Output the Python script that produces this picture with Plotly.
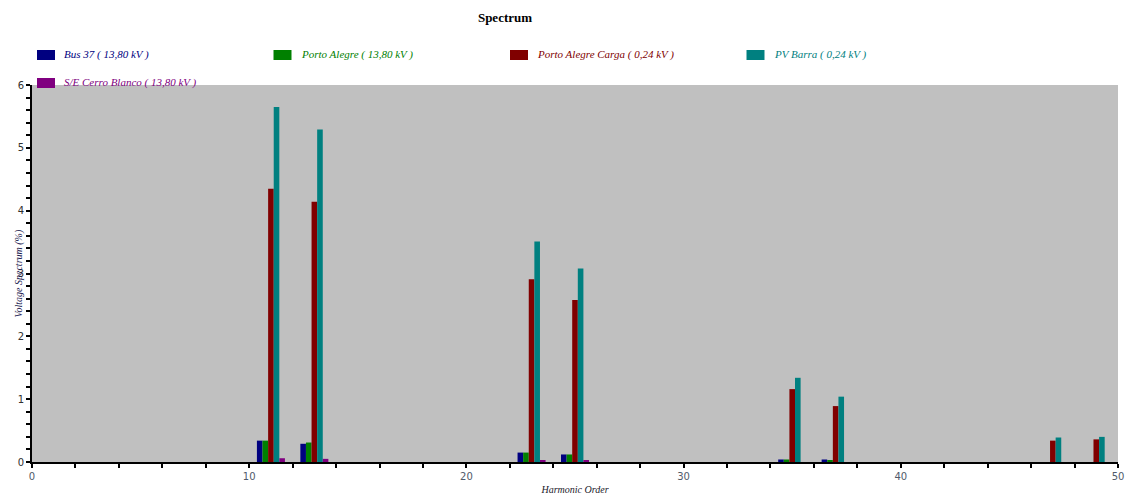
import plotly.graph_objects as go

# Harmonic orders and voltage spectrum (%) per bus
harmonics = [11, 13, 23, 25, 35, 37, 47, 49]
bus37 = [0.34, 0.29, 0.15, 0.12, 0.04, 0.04, 0.0, 0.0]
porto_alegre = [0.34, 0.31, 0.15, 0.12, 0.04, 0.03, 0.0, 0.0]
porto_alegre_carga = [4.35, 4.14, 2.91, 2.58, 1.16, 0.89, 0.34, 0.36]
pv_barra = [5.65, 5.29, 3.51, 3.08, 1.34, 1.04, 0.39, 0.40]
cerro_blanco = [0.06, 0.05, 0.03, 0.02, 0.0, 0.0, 0.0, 0.0]

series_names = [
    "Bus 37 ( 13,80 kV )",
    "Porto Alegre ( 13,80 kV )",
    "Porto Alegre Carga ( 0,24 kV )",
    "PV Barra ( 0,24 kV )",
    "S/E Cerro Blanco ( 13,80 kV )",
]
series_values = [bus37, porto_alegre, porto_alegre_carga, pv_barra, cerro_blanco]
series_colors = ["#000080", "#008000", "#800000", "#008080", "#800080"]

W, H = 1126, 495
ML, MR, MT, MB = 32, 8, 85, 33
PW, PH = W - ML - MR, H - MT - MB

fig = go.Figure()
for name, vals, col in zip(series_names, series_values, series_colors):
    fig.add_trace(go.Bar(
        x=harmonics, y=vals, name=name,
        marker=dict(color=col, line=dict(width=0)),
        showlegend=False,
    ))

# Hand-built legend: swatch + italic label, four entries per row
serif = "Liberation Serif, Times New Roman, serif"
shapes, annotations = [], []
for i, (name, col) in enumerate(zip(series_names, series_colors)):
    row, colidx = divmod(i, 4)
    px = 37 + colidx * 236.5
    py = 55 + row * 28
    shapes.append(dict(
        type="rect", xref="paper", yref="paper",
        x0=(px - ML) / PW, x1=(px + 18 - ML) / PW,
        y0=(H - MB - (py + 5)) / PH, y1=(H - MB - (py - 5)) / PH,
        fillcolor=col, line=dict(width=0), layer="above",
    ))
    annotations.append(dict(
        xref="paper", yref="paper",
        x=(px + 25 - ML) / PW, y=(H - MB - py) / PH,
        xanchor="left", yanchor="middle", showarrow=False,
        text=f"<i>{name}</i>",
        font=dict(family=serif, size=11, color=col),
    ))

# Vertical axis title, set slightly inside the left margin
annotations.append(dict(
    xref="paper", yref="paper", x=(18 - ML) / PW, y=0.5,
    xanchor="center", yanchor="middle", showarrow=False, textangle=-90,
    text="<i>Voltage Spectrum (%)</i>",
    font=dict(family=serif, size=10, color="#1a1a50"),
))

fig.update_layout(
    width=W, height=H,
    margin=dict(l=ML, r=MR, t=MT, b=MB, pad=0, autoexpand=False),
    paper_bgcolor="white",
    plot_bgcolor="#C0C0C0",
    barmode="group",
    bargap=0.355,
    bargroupgap=0,
    title=dict(
        text="<b>Spectrum</b>", xref="container", yref="container",
        x=505 / W, y=1 - 17 / H, xanchor="center", yanchor="middle",
        font=dict(family=serif, size=13, color="black"),
    ),
    shapes=shapes,
    annotations=annotations,
    xaxis=dict(
        range=[0, 50], dtick=10, tick0=0, automargin=False,
        showgrid=False, zeroline=False,
        showline=True, linecolor="black", linewidth=2,
        ticks="outside", ticklen=4, tickwidth=2, tickcolor="black",
        minor=dict(dtick=2, ticks="outside", ticklen=4, tickwidth=2, tickcolor="black", showgrid=False),
        tickfont=dict(family="DejaVu Sans, Verdana, sans-serif", size=10, color="#505a6a"),
        title=dict(text="<i>Harmonic Order</i>", standoff=6,
                   font=dict(family=serif, size=10, color="#1a1a2a")),
    ),
    yaxis=dict(
        range=[0, 6], dtick=1, tick0=0, automargin=False,
        showgrid=False, zeroline=False,
        showline=True, linecolor="black", linewidth=2,
        ticks="outside", ticklen=4, tickwidth=2, tickcolor="black",
        minor=dict(dtick=0.2, ticks="outside", ticklen=4, tickwidth=1.5, tickcolor="black", showgrid=False),
        tickfont=dict(family="DejaVu Sans, Verdana, sans-serif", size=10, color="#303030"),
    ),
)

fig.write_html("out.html")
